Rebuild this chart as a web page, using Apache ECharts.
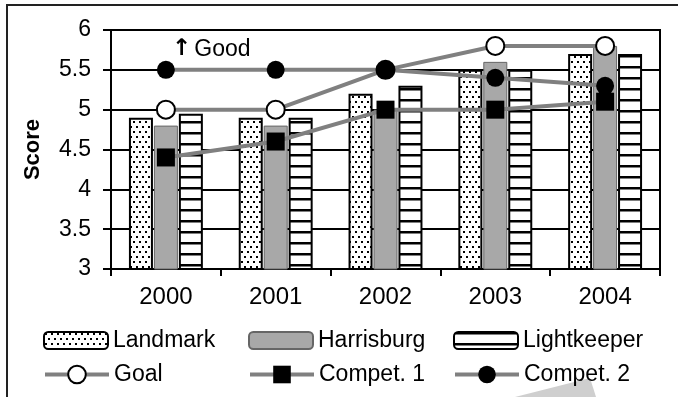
<!DOCTYPE html>
<html>
<head>
<meta charset="utf-8">
<script src="https://cdn.jsdelivr.net/npm/echarts@6/dist/echarts.min.js"></script>
<style>
html, body { margin: 0; padding: 0; background: #fff; }
#chart { width: 678px; height: 397px; }
</style>
</head>
<body>
<div id="chart"></div>
<script>
var years = ['2000', '2001', '2002', '2003', '2004'];
var landmark = [4.9, 4.9, 5.2, 5.5, 5.7];
var harrisburg = [4.8, 4.8, 5.0, 5.6, 5.8];
var lightkeeper = [4.95, 4.9, 5.3, 5.5, 5.7];
var goal = [5.0, 5.0, 5.5, 5.8, 5.8];
var compet1 = [4.4, 4.6, 5.0, 5.0, 5.1];
var compet2 = [5.5, 5.5, 5.5, 5.4, 5.3];
var yTicks = ['3', '3.5', '4', '4.5', '5', '5.5', '6'];
var legendNames = ['Landmark', 'Harrisburg', 'Lightkeeper', 'Goal', 'Compet. 1', 'Compet. 2'];

var font = 'Liberation Sans';

// dotted fill
function dotPattern() {
    var c = document.createElement('canvas');
    c.width = 6; c.height = 10;
    var ctx = c.getContext('2d');
    ctx.fillStyle = '#fff';
    ctx.fillRect(0, 0, 6, 10);
    ctx.fillStyle = '#000';
    ctx.fillRect(1, 1, 2, 2);
    ctx.fillRect(4, 6, 2, 2);
    return c;
}
// horizontal stripes
function stripePattern() {
    var c = document.createElement('canvas');
    c.width = 4; c.height = 11;
    var ctx = c.getContext('2d');
    ctx.fillStyle = '#fff';
    ctx.fillRect(0, 0, 4, 11);
    ctx.fillStyle = '#000';
    ctx.fillRect(0, 0, 4, 2.5);
    return c;
}

var lineColor = '#808080';

// one legend per entry so the columns line up like the original
var legendLeft = [38, 243, 448];
var legends = legendNames.map(function (n, i) {
    var isLine = i >= 3;
    return {
        left: legendLeft[i % 3],
        top: isLine ? 358 : 324,
        itemWidth: 64,
        itemHeight: isLine ? 22 : 17,
        itemGap: 0,
        lineStyle: { width: 4 },
        textStyle: { fontSize: 23, color: '#000', fontFamily: font },
        data: [n]
    };
});

option = {
    backgroundColor: '#fff',
    animation: false,
    textStyle: { fontFamily: font },
    grid: {
        left: 111, top: 30, right: 18, bottom: 128,
        show: true, borderColor: '#000', borderWidth: 2
    },
    graphic: [{
        type: 'rect',
        shape: { x: 7, y: 5, width: 800, height: 600 },
        style: { fill: 'none', stroke: '#222', lineWidth: 2 }
    }, {
        type: 'polygon',
        shape: { points: [[515, 397], [590, 378], [596, 397]] },
        style: { fill: '#cfcfcf' }
    }, {
        type: 'text',
        left: 172, top: 38,
        style: {
            text: '{a|↑}{b|Good}',
            rich: {
                a: { fontFamily: 'DejaVu Sans', fontSize: 23, fontWeight: 'bold', fill: '#000' },
                b: { fontFamily: font, fontSize: 23, fill: '#000', padding: [0, 0, 0, 3] }
            }
        }
    }],
    legend: legends,
    xAxis: {
        type: 'category',
        data: years,
        axisLine: { lineStyle: { color: '#000', width: 2 } },
        axisTick: { show: true, length: 7, lineStyle: { color: '#000', width: 2 } },
        axisLabel: { fontSize: 24, color: '#000', margin: 16, fontFamily: font }
    },
    yAxis: {
        type: 'value',
        min: 3, max: 6, interval: 0.5,
        name: 'Score',
        nameLocation: 'middle',
        nameGap: 67,
        nameTextStyle: { fontSize: 22, fontWeight: 'bold', color: '#000', fontFamily: font },
        axisLine: { show: true, lineStyle: { color: '#000', width: 2 } },
        axisTick: { show: true, length: 8, lineStyle: { color: '#000', width: 2 } },
        splitLine: { lineStyle: { color: '#000', width: 2 } },
        axisLabel: {
            fontSize: 23, color: '#000', margin: 20, fontFamily: font,
            formatter: function (v) { return yTicks[Math.round((v - 3) / 0.5)]; }
        }
    },
    series: [{
        name: 'Landmark', type: 'bar', data: landmark,
        barWidth: 24, barGap: '4%',
        itemStyle: { color: { image: dotPattern(), repeat: 'repeat' }, borderColor: '#000', borderWidth: 2 }
    }, {
        name: 'Harrisburg', type: 'bar', data: harrisburg,
        barWidth: 24, barGap: '4%',
        itemStyle: { color: '#a8a8a8', borderColor: '#666', borderWidth: 1 }
    }, {
        name: 'Lightkeeper', type: 'bar', data: lightkeeper,
        barWidth: 24, barGap: '4%',
        itemStyle: { color: { image: stripePattern(), repeat: 'repeat' }, borderColor: '#000', borderWidth: 2 }
    }, {
        name: 'Goal', type: 'line', data: goal,
        symbol: 'circle', symbolSize: 18,
        lineStyle: { color: lineColor, width: 4 },
        itemStyle: { color: '#fff', borderColor: '#000', borderWidth: 2 }
    }, {
        name: 'Compet. 1', type: 'line', data: compet1,
        symbol: 'rect', symbolSize: 18,
        lineStyle: { color: lineColor, width: 4 },
        itemStyle: { color: '#000' }
    }, {
        name: 'Compet. 2', type: 'line', data: compet2,
        symbol: 'circle', symbolSize: 18,
        lineStyle: { color: lineColor, width: 4 },
        itemStyle: { color: '#000' }
    }]
};
var chart = echarts.init(document.getElementById('chart'));
chart.setOption(option);
</script>
</body>
</html>
